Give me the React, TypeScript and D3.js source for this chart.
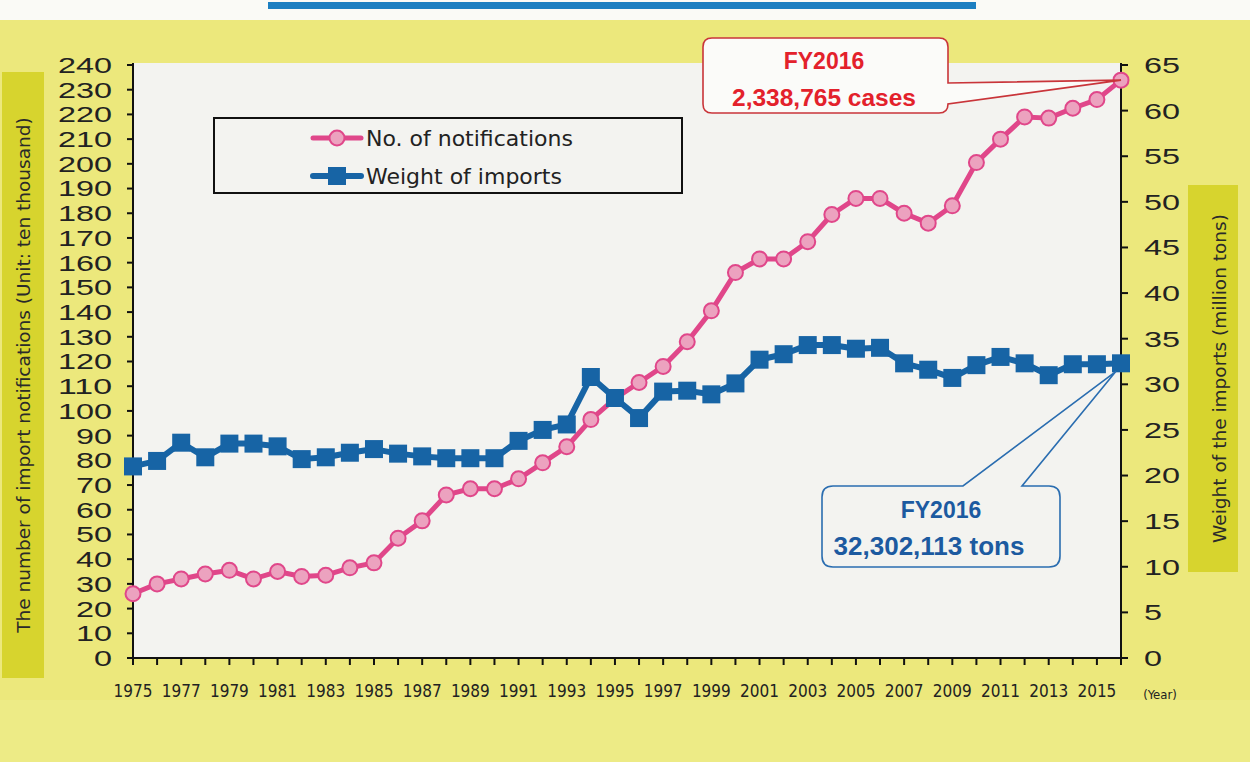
import React from "react";
import * as d3 from "d3";

const years: number[] = d3.range(1975, 2017);
const notifications: number[] = [
  26, 30, 32, 34, 35.5, 32, 35, 33, 33.5, 36.5, 38.5, 48.5, 55.5, 66, 68.5, 68.5,
  72.5, 79, 85.5, 96.5, 105, 111.5, 118, 128, 140.5, 156, 161.5, 161.5, 168.5, 179.5,
  186, 186, 180, 176, 183, 200.5, 210, 219, 218.5, 222.5, 226, 233.8765,
];
const weights: number[] = [
  21.0, 21.6, 23.6, 22.0, 23.5, 23.5, 23.2, 21.8, 22.0, 22.5, 22.9, 22.4, 22.1, 21.9,
  21.9, 21.9, 23.8, 25.0, 25.6, 30.8, 28.5, 26.3, 29.2, 29.3, 28.9, 30.1, 32.7, 33.3,
  34.3, 34.3, 33.9, 34.0, 32.3, 31.6, 30.7, 32.1, 33.0, 32.3, 31.0, 32.2, 32.2, 32.302113,
];
const leftTicks: number[] = d3.range(0, 241, 10);
const rightTicks: number[] = d3.range(0, 66, 5);
const xLabelYears: number[] = d3.range(1975, 2016, 2);
const seriesNames: string[] = ["No. of notifications", "Weight of imports"];
const leftTitle = "The number of import notifications (Unit: ten thousand)";
const rightTitle = "Weight of the imports (million tons)";
const redCallout: string[] = ["FY2016", "2,338,765 cases"];
const blueCallout: string[] = ["FY2016", "32,302,113 tons"];

const PINK = "#e0478a";
const PINK_FILL = "#eca2bf";
const BLUE = "#1764a5";
const YELLOW = "#ece87c";
const BOX = "#d7d42e";
const PLOT_BG = "#f3f3f0";
const TICK_FONT = "'Liberation Sans', sans-serif";
const TITLE_FONT = "'DejaVu Sans', sans-serif";
const NARROW = "'Liberation Sans Narrow', 'DejaVu Sans Condensed', sans-serif";

function bubble(
  x0: number, y0: number, x1: number, y1: number, r: number,
  side: "top" | "right", a: number, b: number, tx: number, ty: number
) {
  let p = `M${x0 + r},${y0}`;
  if (side === "top") p += ` L${a},${y0} L${tx},${ty} L${b},${y0}`;
  p += ` L${x1 - r},${y0} Q${x1},${y0} ${x1},${y0 + r}`;
  if (side === "right") p += ` L${x1},${a} L${tx},${ty} L${x1},${b}`;
  p += ` L${x1},${y1 - r} Q${x1},${y1} ${x1 - r},${y1}`;
  p += ` L${x0 + r},${y1} Q${x0},${y1} ${x0},${y1 - r}`;
  p += ` L${x0},${y0 + r} Q${x0},${y0} ${x0 + r},${y0} Z`;
  return p;
}

export default function App() {
  const L = 133, R = 1121, T = 65, B = 658;
  const x = d3.scaleLinear().domain([1975, 2016]).range([L, R]);
  const yL = d3.scaleLinear().domain([0, 240]).range([B, T]);
  const yR = d3.scaleLinear().domain([0, 65]).range([B, T]);

  const pinkLine = d3.line<number>().x((_, i) => x(years[i])).y((d) => yL(d));
  const blueLine = d3.line<number>().x((_, i) => x(years[i])).y((d) => yR(d));

  const redTipX = x(2016), redTipY = yL(notifications[notifications.length - 1]);
  const blueTipX = x(2016) - 5, blueTipY = yR(weights[weights.length - 1]) + 8;
  const DIGIT_W = 18;

  return (
    <svg width={1250} height={762} style={{ position: "absolute", left: 0, top: 0 }}
      xmlns="http://www.w3.org/2000/svg">
      <rect x={0} y={0} width={1250} height={762} fill="#fafaf6" />
      <rect x={0} y={20} width={1250} height={742} fill={YELLOW} />
      <rect x={0} y={700} width={1250} height={62} fill="#efec8e" opacity={0.6} />
      <rect x={268} y={2} width={708} height={7} fill="#1c7fc1" />

      {/* plot area */}
      <rect x={L} y={63} width={R - L} height={B - 63} fill={PLOT_BG} />

      {/* axis title boxes */}
      <rect x={2} y={72} width={42} height={606} fill={BOX} />
      <text transform={`translate(30,${(72 + 678) / 2}) rotate(-90)`} textAnchor="middle"
        fontFamily={TITLE_FONT} fontSize={18.5} fill="#2a2a2a">{leftTitle}</text>
      <rect x={1188} y={185} width={50} height={387} fill={BOX} />
      <text transform={`translate(1226,${(185 + 572) / 2}) rotate(-90)`} textAnchor="middle"
        fontFamily={TITLE_FONT} fontSize={18.5} fill="#2a2a2a">{rightTitle}</text>

      {/* left axis */}
      <line x1={L} x2={L} y1={63} y2={B} stroke="#111" strokeWidth={2} />
      {leftTicks.map((t) => (
        <g key={"l" + t}>
          <line x1={L - 6} x2={L} y1={yL(t)} y2={yL(t)} stroke="#111" strokeWidth={2} />
          <text x={112} y={yL(t)} dy="0.36em" textAnchor="end" fontFamily={TICK_FONT}
            fontSize={22} fill="#222" textLength={String(t).length * DIGIT_W}
            lengthAdjust="spacingAndGlyphs">{t}</text>
        </g>
      ))}

      {/* right axis */}
      <line x1={R} x2={R} y1={63} y2={B} stroke="#111" strokeWidth={2} />
      {rightTicks.map((t) => (
        <g key={"r" + t}>
          <line x1={R} x2={R + 7} y1={yR(t)} y2={yR(t)} stroke="#111" strokeWidth={2} />
          <text x={1144} y={yR(t)} dy="0.36em" textAnchor="start" fontFamily={TICK_FONT}
            fontSize={22} fill="#222" textLength={String(t).length * DIGIT_W}
            lengthAdjust="spacingAndGlyphs">{t}</text>
        </g>
      ))}

      {/* bottom axis */}
      <line x1={L} x2={R} y1={B} y2={B} stroke="#111" strokeWidth={2} />
      {years.map((yr) => (
        <line key={"x" + yr} x1={x(yr)} x2={x(yr)} y1={B} y2={B + 7} stroke="#111" strokeWidth={2} />
      ))}
      {xLabelYears.map((yr) => (
        <text key={"xl" + yr} x={x(yr)} y={697} textAnchor="middle" fontFamily={NARROW}
          fontSize={17} fill="#222">{yr}</text>
      ))}
      <text x={1160} y={699} textAnchor="middle" fontFamily={NARROW} fontSize={13} fill="#222">(Year)</text>

      {/* legend */}
      <rect x={214} y={118} width={468} height={75} fill={PLOT_BG} stroke="#111" strokeWidth={2} />
      <line x1={313} x2={361} y1={138} y2={138} stroke={PINK} strokeWidth={5} strokeLinecap="round" />
      <circle cx={337} cy={138} r={7.5} fill={PINK_FILL} stroke={PINK} strokeWidth={2} />
      <text x={366} y={138} dy="0.36em" fontFamily={TITLE_FONT} fontSize={22} fill="#222">{seriesNames[0]}</text>
      <line x1={313} x2={361} y1={176} y2={176} stroke={BLUE} strokeWidth={6} strokeLinecap="round" />
      <rect x={328} y={167} width={18} height={18} fill={BLUE} />
      <text x={366} y={176} dy="0.36em" fontFamily={TITLE_FONT} fontSize={22} fill="#222">{seriesNames[1]}</text>

      {/* notifications series */}
      <path d={pinkLine(notifications) || ""} fill="none" stroke={PINK} strokeWidth={5} strokeLinejoin="round" />
      {notifications.map((v, i) => (
        <circle key={"p" + i} cx={x(years[i])} cy={yL(v)} r={7.5} fill={PINK_FILL} stroke={PINK} strokeWidth={2} />
      ))}

      {/* weight series */}
      <path d={blueLine(weights) || ""} fill="none" stroke={BLUE} strokeWidth={6} strokeLinejoin="round" />
      {weights.map((v, i) => (
        <rect key={"b" + i} x={x(years[i]) - 9} y={yR(v) - 9} width={18} height={18} fill={BLUE} />
      ))}

      {/* red callout */}
      <path d={bubble(703, 38, 948, 113, 9, "right", 83, 104, redTipX, redTipY)}
        fill="#fbfbf9" stroke="#c9353a" strokeWidth={1.6} />
      <text x={824} y={61} dy="0.36em" textAnchor="middle" fontFamily="'Liberation Sans', sans-serif"
        fontWeight="bold" fontSize={23} fill="#e3212b">{redCallout[0]}</text>
      <text x={824} y={97} dy="0.36em" textAnchor="middle" fontFamily="'Liberation Sans', sans-serif"
        fontWeight="bold" fontSize={24.5} fill="#e3212b">{redCallout[1]}</text>

      {/* blue callout */}
      <path d={bubble(822, 486, 1060, 567, 11, "top", 963, 1022, blueTipX, blueTipY)}
        fill={PLOT_BG} stroke="#2a6db0" strokeWidth={1.6} />
      <text x={941} y={510} dy="0.36em" textAnchor="middle" fontFamily="'Liberation Sans', sans-serif"
        fontWeight="bold" fontSize={23} fill="#1c5aa0">{blueCallout[0]}</text>
      <text x={929} y={546} dy="0.36em" textAnchor="middle" fontFamily="'Liberation Sans', sans-serif"
        fontWeight="bold" fontSize={26} fill="#1c5aa0">{blueCallout[1]}</text>
    </svg>
  );
}
